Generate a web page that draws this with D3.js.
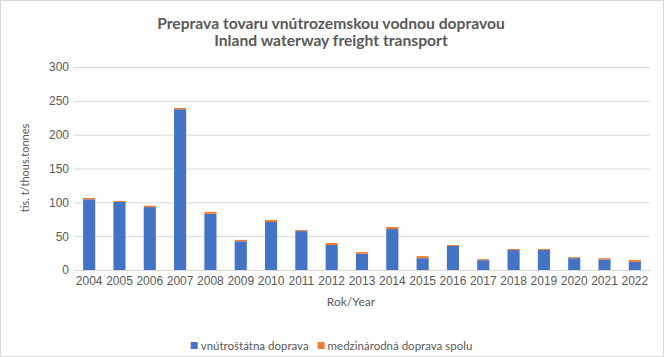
<!DOCTYPE html>
<html><head><meta charset="utf-8">
<script src="https://cdn.jsdelivr.net/npm/d3@7"></script>
<style>body{margin:0;background:#fff}svg{display:block;font-family:Lato,"Liberation Sans",sans-serif}</style>
</head><body><svg id="c" width="664" height="357"></svg>
<script>
const years = ["2004","2005","2006","2007","2008","2009","2010","2011","2012","2013","2014","2015","2016","2017","2018","2019","2020","2021","2022"];
const domestic = [104.5,100.5,93,237.5,83,42.5,71,57.5,37,24,60.5,17.5,35.5,14.5,29.5,29.5,17.5,15.5,12];
const international = [2,1.5,2,2,3,2,3,1.5,3,2.5,3,3,1.5,1.5,1.5,1.5,1.5,2,3];
const seriesNames = ["vnútroštátna doprava","medzinárodná doprava spolu"];
const yTicks = [0,50,100,150,200,250,300];
const titleLines = ["Preprava tovaru vnútrozemskou vodnou dopravou","Inland waterway freight transport"];
const xTitle = "Rok/Year";
const yTitle = "tis. t/thous.tonnes";

const colors = ["#4472C4","#ED7D31"];
const svg = d3.select("#c");
svg.append("rect").attr("x",0.5).attr("y",0.5).attr("width",663).attr("height",356).attr("fill","#fff").attr("stroke","#D9D9D9");

const x = d3.scaleBand().domain(years).range([74,650]).paddingInner(0.6).paddingOuter(0.3);
const y = d3.scaleLinear().domain([0,300]).range([270,67]);

const yAxis = d3.axisLeft(y).tickValues(yTicks).tickSize(-(650-74)).tickPadding(5);
const gy = svg.append("g").attr("transform","translate(74,0)").call(yAxis);
gy.select(".domain").remove();
gy.selectAll(".tick line").attr("stroke","#D9D9D9").attr("stroke-width",1);
gy.selectAll(".tick text").attr("fill","#595959").attr("font-size","12px");

const stack = years.map((yr,i)=>({yr, a:domestic[i], b:international[i]}));
svg.append("g").selectAll("rect").data(stack).join("rect")
  .attr("x",d=>x(d.yr)).attr("width",x.bandwidth())
  .attr("y",d=>y(d.a)).attr("height",d=>y(0)-y(d.a)).attr("fill",colors[0]);
svg.append("g").selectAll("rect").data(stack).join("rect")
  .attr("x",d=>x(d.yr)).attr("width",x.bandwidth())
  .attr("y",d=>y(d.a+d.b)).attr("height",d=>y(d.a)-y(d.a+d.b)).attr("fill",colors[1]);

const xAxis = d3.axisBottom(x).tickSize(0).tickPadding(6);
const gx = svg.append("g").attr("transform","translate(0,270)").call(xAxis);
gx.select(".domain").attr("stroke","#D9D9D9");
gx.selectAll(".tick text").attr("fill","#595959").attr("font-size","12px");

const tt = svg.append("g").selectAll("text").data(titleLines).join("text")
  .attr("x",331).attr("y",(d,i)=>29+i*17).attr("text-anchor","middle")
  .attr("font-weight","bold").attr("font-size","14.5px").attr("fill","#595959").text(d=>d);
const w0 = tt.nodes()[0].getComputedTextLength();
tt.attr("font-size",(14.5*348/w0).toFixed(2)+"px");

svg.append("text").attr("x",351).attr("y",306).attr("text-anchor","middle")
  .attr("font-size","12px").attr("fill","#595959").text(xTitle);
svg.append("text").attr("transform","translate(29,168) rotate(-90)").attr("text-anchor","middle")
  .attr("font-size","11px").attr("fill","#595959").text(yTitle);

// legend, centred
const lg = svg.append("g");
let cx = 0;
seriesNames.forEach((n,i)=>{
  lg.append("rect").attr("x",cx).attr("y",342).attr("width",7).attr("height",7).attr("fill",colors[i]);
  const t = lg.append("text").attr("x",cx+10).attr("y",350).attr("font-size","11.5px").attr("fill","#595959").text(n);
  cx += 10 + t.node().getComputedTextLength() + (i < seriesNames.length-1 ? 9 : 0);
});
lg.attr("transform",`translate(${(331.5 - cx/2).toFixed(1)},0)`);
</script></body></html>
